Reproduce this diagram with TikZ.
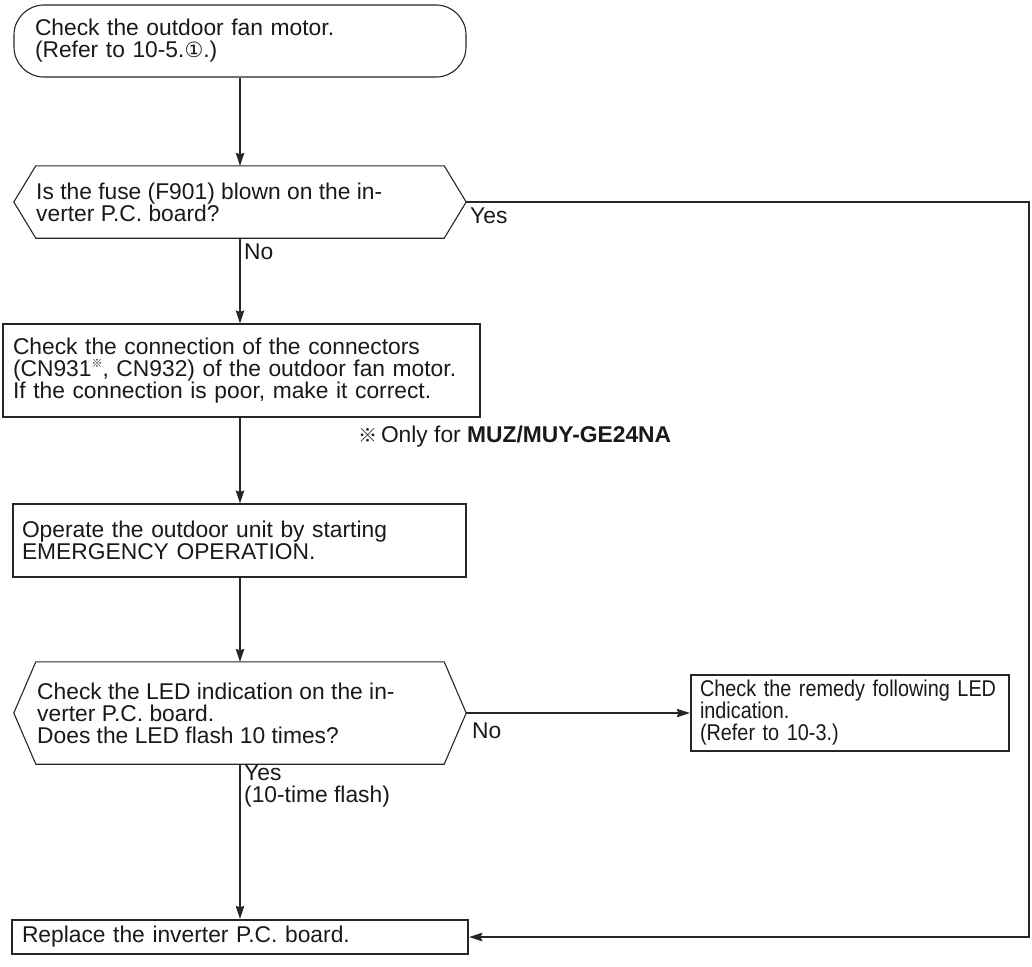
\documentclass[tikz,border=0pt]{standalone}
\usepackage{fontspec}
\setmainfont{Liberation Sans}
\newfontfamily\narrowfont[FakeStretch=0.87]{Liberation Sans}
\newfontfamily\symfont{DejaVu Sans}
\newfontfamily\cjkfont{Noto Sans CJK JP}
\usetikzlibrary{arrows.meta,calc}
\begin{document}
\begin{tikzpicture}[x=1pt,y=-1pt,
  every node/.style={font=\fontsize{22.8}{22}\selectfont, inner sep=0pt, text=black!90},
  line/.style={line width=1.1pt, draw=black!85},
  arr/.style={line, -{Stealth[length=13pt,width=8.5pt,inset=1.5pt]}},
  box/.style={line, rectangle, align=left},
  thickbox/.style={box, line width=2.4pt},
  hexarea/.style={rectangle, draw=none},
  lbl/.style={anchor=west, align=left}
]
\useasboundingbox (0,0) rectangle (1032,966);

% terminal
\node[box, rounded corners=30pt, minimum width=452pt, minimum height=72pt,
      inner xsep=21pt, text width=410pt] (T) at (240,41)
  {Check the outdoor fan motor.\\(Refer to 10-5.{\symfont\fontsize{21}{21}\selectfont ①}.)};

% decision 1
\node[hexarea, minimum width=452pt, minimum height=72pt] (D1) at (240,202) {};
\draw[line] (D1.west) -- ($(D1.north west)+(22,0)$) -- ($(D1.north east)+(-22,0)$)
  -- (D1.east) -- ($(D1.south east)+(-22,0)$) -- ($(D1.south west)+(22,0)$) -- cycle;
\node[lbl] (D1t) at (36,202) {Is the fuse (F901) blown on the in-\\verter P.C. board?};

% box 2
\node[box, minimum width=477pt, minimum height=93pt, inner xsep=10pt, text width=457pt] (B2) at (241.5,370.5)
  {Check the connection of the connectors\\(CN931\raisebox{0.4em}{\cjkfont\fontsize{11}{11}\selectfont ※}, CN932) of the outdoor fan motor.\\If the connection is poor, make it correct.};
\node[lbl] (note) at (358,437) {{\cjkfont\fontsize{19}{19}\selectfont ※}\,Only for \textbf{MUZ/MUY-GE24NA}};

% box 3
\node[box, minimum width=453pt, minimum height=73pt, inner xsep=9pt, text width=435pt] (B3) at (239.5,540.5)
  {Operate the outdoor unit by starting\\EMERGENCY OPERATION.};

% decision 2
\node[hexarea, minimum width=452pt, minimum height=102pt] (D2) at (240,713) {};
\draw[line] (D2.west) -- ($(D2.north west)+(22,0)$) -- ($(D2.north east)+(-22,0)$)
  -- (D2.east) -- ($(D2.south east)+(-22,0)$) -- ($(D2.south west)+(22,0)$) -- cycle;
\node[lbl] (D2t) at (37,713) {Check the LED indication on the in-\\verter P.C. board.\\Does the LED flash 10 times?};

% box 4
\node[thickbox, minimum width=318pt, minimum height=76pt, inner xsep=9pt, text width=300pt,
      font=\narrowfont\fontsize{22.8}{22}\selectfont] (B4) at (850,713)
  {Check the remedy following LED\\indication.\\(Refer to 10-3.)};

% final box
\node[thickbox, minimum width=456pt, minimum height=34pt, inner xsep=10pt, text width=436pt] (R) at (240,937)
  {Replace the inverter P.C. board.};

% labels
\node[lbl] (yes1) at (470,216) {Yes};
\node[lbl] (no1) at (244,252) {No};
\node[lbl] (no2) at (472,731) {No};
\node[lbl, anchor=north west] (yes2) at (244,765) {Yes\\(10-time flash)};

% connectors
\coordinate (RC) at (1029,560);
\draw[arr] (T.south) -- (T.south |- D1.north);
\draw[arr] (D1.south) -- (D1.south |- B2.north);
\draw[arr] (D1.south |- B2.south) -- (D1.south |- B3.north);
\draw[arr] (D1.south |- B3.south) -- (D2.north);
\draw[arr] (D2.south) -- (R.north);
\draw[arr] (D2.east) -- (D2.east -| B4.west);
\draw[arr] (D1.east) -| (RC) |- (R.east);
\end{tikzpicture}
\end{document}
